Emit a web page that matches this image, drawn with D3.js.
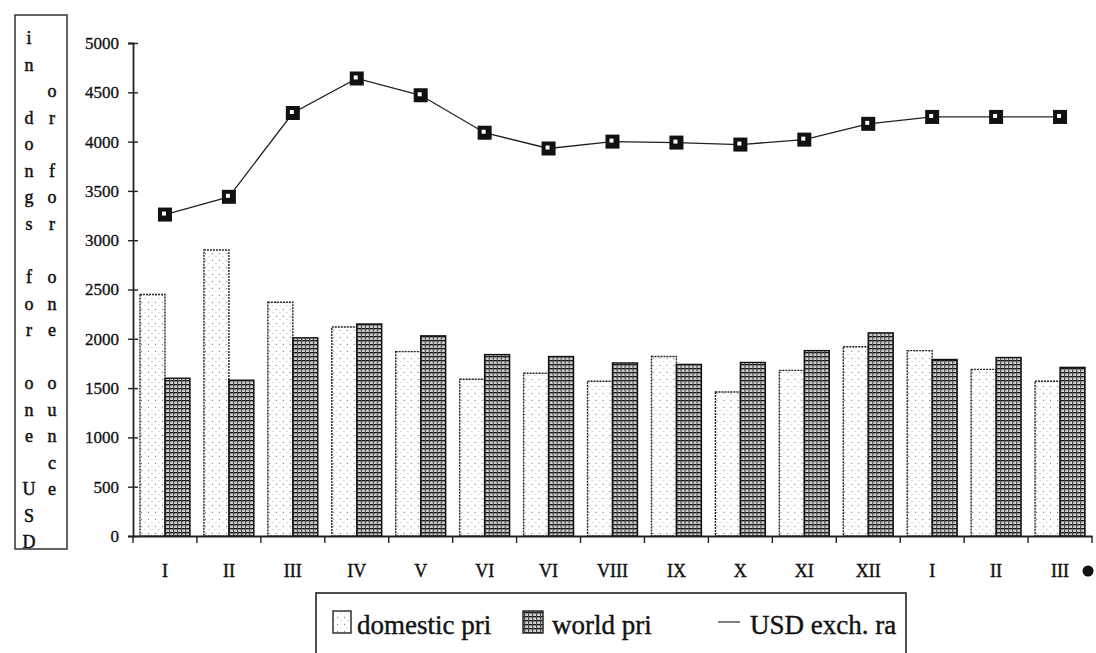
<!DOCTYPE html>
<html>
<head>
<meta charset="utf-8">
<script src="https://cdn.jsdelivr.net/npm/d3@7"></script>
<style>
  body { margin: 0; background: #fff; }
  text { font-family: "Liberation Serif", "DejaVu Serif", serif; fill: #111; }
</style>
</head>
<body>
<div id="chart"></div>
<script>
// data
const months = ["I", "II", "III", "IV", "V", "VI", "VI", "VIII", "IX", "X", "XI", "XII", "I", "II", "III"];
const domesticPrice = [2450, 2900, 2370, 2120, 1870, 1590, 1650, 1570, 1820, 1460, 1680, 1920, 1880, 1690, 1570];
const worldPrice = [1600, 1580, 2010, 2150, 2030, 1840, 1820, 1755, 1740, 1760, 1880, 2060, 1790, 1810, 1710];
const usdRate = [3260, 3440, 4290, 4640, 4470, 4090, 3930, 4000, 3990, 3970, 4020, 4180, 4250, 4250, 4250];
const yTicks = [0, 500, 1000, 1500, 2000, 2500, 3000, 3500, 4000, 4500, 5000];
const seriesNames = ["domestic pri", "world pri", "USD exch. ra"];
// vertical title, one letter per row
const titleLeft = "in dongs for one USD";
const titleRight = "  or for one ounce";

const width = 1096, height = 653;
const svg = d3.select("#chart")
    .append("svg")
    .attr("width", width)
    .attr("height", height);

// patterns for the two bar series
const defs = svg.append("defs");
const pDom = defs.append("pattern")
    .attr("id", "pat-dom")
    .attr("patternUnits", "userSpaceOnUse")
    .attr("width", 7).attr("height", 7);
pDom.append("rect").attr("width", 7).attr("height", 7).attr("fill", "#fff");
pDom.append("circle").attr("cx", 1.5).attr("cy", 1.5).attr("r", 0.7).attr("fill", "#888");
pDom.append("circle").attr("cx", 5).attr("cy", 4.5).attr("r", 0.6).attr("fill", "#aaa");

const pWorld = defs.append("pattern")
    .attr("id", "pat-world")
    .attr("patternUnits", "userSpaceOnUse")
    .attr("width", 4).attr("height", 4);
pWorld.append("rect").attr("width", 4).attr("height", 4).attr("fill", "#f4f4f4");
pWorld.append("rect").attr("width", 4).attr("height", 1.4).attr("fill", "#111");
pWorld.append("rect").attr("width", 1.3).attr("height", 4).attr("fill", "#444");
pWorld.append("rect").attr("x", 2.4).attr("y", 2.4).attr("width", 1).attr("height", 1).attr("fill", "#666");

// scales
const x0 = d3.scaleBand()
    .domain(d3.range(months.length))
    .range([133, 1092])
    .padding(0);
const x1 = d3.scaleBand()
    .domain(["domestic", "world"])
    .range([7, x0.bandwidth() - 7]);
const y = d3.scaleLinear()
    .domain([0, 5000])
    .range([536, 43]);

// bars
const groups = svg.append("g")
    .selectAll("g")
    .data(d3.range(months.length))
    .join("g")
    .attr("transform", i => `translate(${x0(i)},0)`);

groups.append("rect")
    .attr("x", x1("domestic"))
    .attr("y", i => y(domesticPrice[i]))
    .attr("width", x1.bandwidth())
    .attr("height", i => y(0) - y(domesticPrice[i]))
    .attr("fill", "url(#pat-dom)")
    .attr("stroke", "#222")
    .attr("stroke-width", 1.4)
    .attr("stroke-dasharray", "2,1");

groups.append("rect")
    .attr("x", x1("world"))
    .attr("y", i => y(worldPrice[i]))
    .attr("width", x1.bandwidth())
    .attr("height", i => y(0) - y(worldPrice[i]))
    .attr("fill", "url(#pat-world)")
    .attr("stroke", "#111")
    .attr("stroke-width", 1.4);

// y axis
const yAxis = svg.append("g")
    .attr("transform", "translate(133,0)")
    .call(d3.axisLeft(y).tickValues(yTicks).tickSize(5).tickPadding(9).tickFormat(d => d));
yAxis.select(".domain").attr("stroke", "#222").attr("stroke-width", 1.8);
yAxis.selectAll(".tick line").attr("x2", 5).attr("x1", -5).attr("stroke", "#222").attr("stroke-width", 1.4);
yAxis.selectAll(".tick text").attr("font-size", 17).attr("font-family", "Liberation Serif, serif")
    .attr("fill", "#111").attr("stroke", "#111").attr("stroke-width", 0.3);

// x axis: labels centred, ticks on band edges
const xAxis = svg.append("g")
    .attr("transform", "translate(0,536)")
    .call(d3.axisBottom(x0).tickSize(0).tickPadding(28).tickFormat(i => months[i]));
xAxis.select(".domain").attr("stroke", "#222").attr("stroke-width", 1.8);
xAxis.selectAll(".tick text").attr("font-size", 18).attr("font-family", "Liberation Serif, serif")
    .attr("fill", "#111").attr("stroke", "#111").attr("stroke-width", 0.4);
xAxis.append("g")
    .selectAll("line")
    .data(d3.range(months.length + 1))
    .join("line")
    .attr("x1", i => 133 + i * x0.step())
    .attr("x2", i => 133 + i * x0.step())
    .attr("y1", 0)
    .attr("y2", 7)
    .attr("stroke", "#222")
    .attr("stroke-width", 1.4);

// stray dot after the last label in the scan
svg.append("circle")
    .attr("cx", x0(months.length - 1) + x0.bandwidth() / 2 + 28)
    .attr("cy", 571)
    .attr("r", 5.5)
    .attr("fill", "#111");

// exchange-rate line
const cx = i => x0(i) + x0.bandwidth() / 2;
const line = d3.line()
    .x((d, i) => cx(i))
    .y(d => y(d));
svg.append("path")
    .datum(usdRate)
    .attr("d", line)
    .attr("fill", "none")
    .attr("stroke", "#222")
    .attr("stroke-width", 1.3);

const markers = svg.append("g")
    .selectAll("g")
    .data(usdRate)
    .join("g")
    .attr("transform", (d, i) => `translate(${cx(i)},${y(d)})`);
markers.append("rect")
    .attr("x", -7).attr("y", -7)
    .attr("width", 14).attr("height", 14)
    .attr("fill", "#111");
markers.append("rect")
    .attr("x", -3).attr("y", -3)
    .attr("width", 4).attr("height", 4)
    .attr("fill", "#fff");

// left title box with vertical letters
svg.append("rect")
    .attr("x", 15).attr("y", 15)
    .attr("width", 52).attr("height", 534)
    .attr("fill", "none")
    .attr("stroke", "#333")
    .attr("stroke-width", 1.5);
const rowY = d3.scaleLinear().domain([0, 19]).range([38, 542]);
svg.append("g")
    .selectAll("text")
    .data(titleLeft.split(""))
    .join("text")
    .attr("x", 29)
    .attr("y", (d, i) => rowY(i))
    .attr("dy", "0.35em")
    .attr("text-anchor", "middle")
    .attr("font-size", 18)
    .attr("stroke", "#111").attr("stroke-width", 0.5)
    .text(d => d.trim());
svg.append("g")
    .selectAll("text")
    .data(titleRight.split(""))
    .join("text")
    .attr("x", 52)
    .attr("y", (d, i) => rowY(i))
    .attr("dy", "0.35em")
    .attr("text-anchor", "middle")
    .attr("font-size", 18)
    .attr("stroke", "#111").attr("stroke-width", 0.5)
    .text(d => d.trim());

// legend
const legend = svg.append("g");
legend.append("rect")
    .attr("x", 316).attr("y", 593)
    .attr("width", 590).attr("height", 80)
    .attr("fill", "#fff")
    .attr("stroke", "#222")
    .attr("stroke-width", 1.6);
legend.append("rect")
    .attr("x", 333).attr("y", 611)
    .attr("width", 18).attr("height", 22)
    .attr("fill", "url(#pat-dom)")
    .attr("stroke", "#222").attr("stroke-width", 1.4);
legend.append("text")
    .attr("x", 357).attr("y", 634)
    .attr("font-size", 27)
    .attr("stroke", "#111").attr("stroke-width", 0.4)
    .text(seriesNames[0]);
legend.append("rect")
    .attr("x", 523).attr("y", 611)
    .attr("width", 20).attr("height", 22)
    .attr("fill", "url(#pat-world)")
    .attr("stroke", "#222").attr("stroke-width", 1.4);
legend.append("text")
    .attr("x", 552).attr("y", 634)
    .attr("font-size", 27)
    .attr("stroke", "#111").attr("stroke-width", 0.4)
    .text(seriesNames[1]);
legend.append("line")
    .attr("x1", 718).attr("x2", 740)
    .attr("y1", 622).attr("y2", 622)
    .attr("stroke", "#555").attr("stroke-width", 1.5);
legend.append("text")
    .attr("x", 750).attr("y", 634)
    .attr("font-size", 27)
    .attr("stroke", "#111").attr("stroke-width", 0.4)
    .text(seriesNames[2]);
</script>
</body>
</html>
